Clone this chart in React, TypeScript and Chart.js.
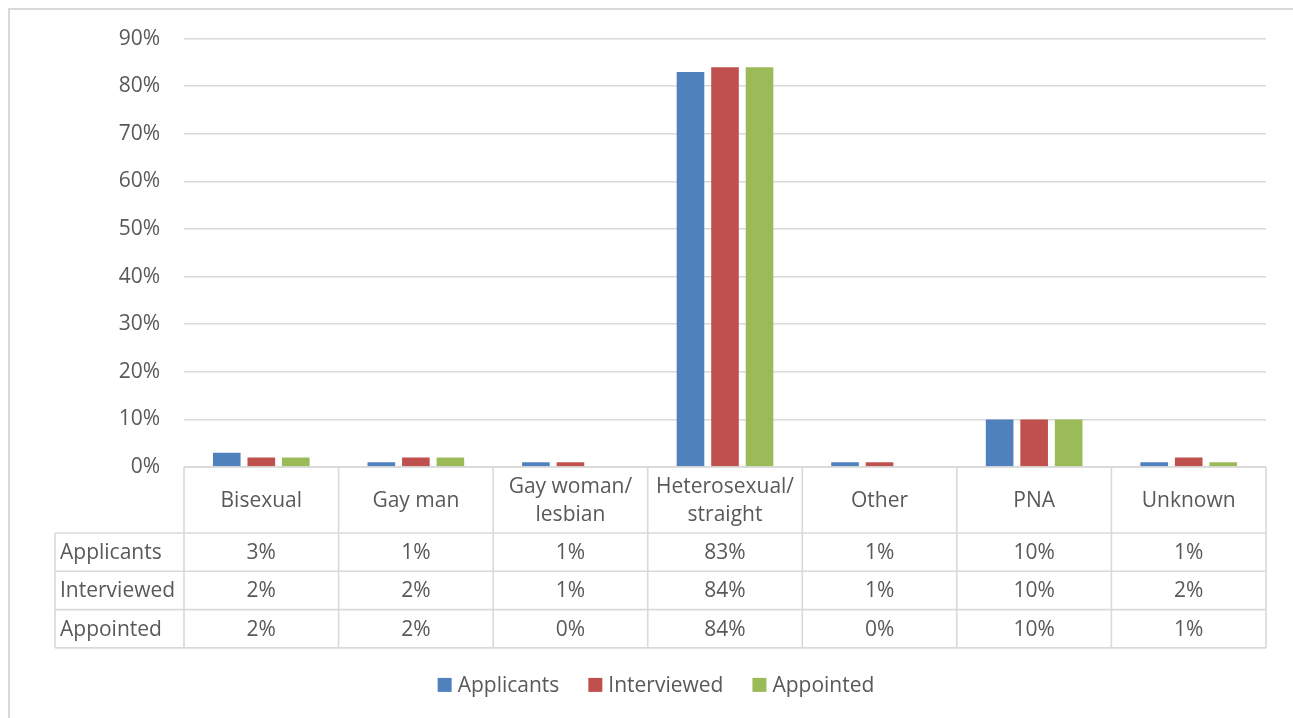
import React, { useEffect, useRef } from "react";
import { Chart, registerables } from "chart.js";

Chart.register(...registerables);

const categories: string[][] = [
  ["Bisexual"],
  ["Gay man"],
  ["Gay woman/", "lesbian"],
  ["Heterosexual/", "straight"],
  ["Other"],
  ["PNA"],
  ["Unknown"],
];
const seriesNames = ["Applicants", "Interviewed", "Appointed"];
const applicants = [3, 1, 1, 83, 1, 10, 1];
const interviewed = [2, 2, 1, 84, 1, 10, 2];
const appointed = [2, 2, 0, 84, 0, 10, 1];
const seriesColors = ["#4F81BD", "#C0504D", "#9BBB59"];
const yMax = 90;
const yStep = 10;

const FONT_FAMILY = "'Open Sans', 'DejaVu Sans', sans-serif";
const FONT_SIZE = 21;
const TEXT_COLOR = "#595959";
const LINE_COLOR = "#d9d9d9";

const tablePlugin = {
  id: "dataTable",
  afterDraw(chart: any) {
    const { ctx, chartArea } = chart;
    const xs = chart.scales.x;
    const seriesValues = [applicants, interviewed, appointed];
    const n = categories.length;
    const top = chartArea.bottom;
    const headerH = 66;
    const rowH = 38.3;
    const headerBottom = top + headerH;
    const tableBottom = headerBottom + rowH * 3;
    const labelLeft = 45;
    const colW = (chartArea.right - chartArea.left) / n;

    ctx.save();
    ctx.strokeStyle = LINE_COLOR;
    ctx.lineWidth = 1.6;
    const line = (x1: number, y1: number, x2: number, y2: number) => {
      ctx.beginPath();
      ctx.moveTo(x1, y1);
      ctx.lineTo(x2, y2);
      ctx.stroke();
    };
    line(chartArea.left, top, chartArea.right, top);
    for (let r = 0; r <= 3; r++) {
      const y = headerBottom + r * rowH;
      line(labelLeft, y, chartArea.right, y);
    }
    for (let i = 0; i <= n; i++) {
      const x = chartArea.left + i * colW;
      line(x, top, x, tableBottom);
    }
    line(labelLeft, headerBottom, labelLeft, tableBottom);

    ctx.fillStyle = TEXT_COLOR;
    ctx.font = `${FONT_SIZE}px ${FONT_FAMILY}`;
    ctx.textBaseline = "middle";
    ctx.textAlign = "center";
    const lh = 28;
    categories.forEach((lines, i) => {
      const cx = xs.getPixelForValue(i);
      const cy = (top + headerBottom) / 2;
      const startY = cy - ((lines.length - 1) * lh) / 2;
      lines.forEach((t, k) => ctx.fillText(t, cx, startY + k * lh + 1));
    });
    seriesValues.forEach((vals, r) => {
      const cy = headerBottom + r * rowH + rowH / 2 + 1;
      ctx.textAlign = "left";
      ctx.fillText(seriesNames[r], labelLeft + 5, cy);
      ctx.textAlign = "center";
      vals.forEach((v, i) => {
        ctx.fillText(`${v}%`, xs.getPixelForValue(i), cy);
      });
    });

    // legend
    const sq = 14;
    const gapText = 6;
    const gapItem = 29;
    const widths = seriesNames.map((s) => ctx.measureText(s).width);
    const total =
      widths.reduce((a, b) => a + b, 0) + seriesNames.length * (sq + gapText) + gapItem * (seriesNames.length - 1);
    let lx = 646 - total / 2;
    const ly = tableBottom + 37;
    ctx.textAlign = "left";
    seriesNames.forEach((s, i) => {
      ctx.fillStyle = seriesColors[i];
      ctx.fillRect(lx, ly - sq / 2, sq, sq);
      lx += sq + gapText;
      ctx.fillStyle = TEXT_COLOR;
      ctx.fillText(s, lx, ly + 1);
      lx += widths[i] + gapItem;
    });
    ctx.restore();
  },
};

export default function App() {
  const canvasRef = useRef<HTMLCanvasElement | null>(null);

  useEffect(() => {
    document.documentElement.style.overflow = "hidden";
    document.body.style.overflow = "hidden";
    const canvas = canvasRef.current;
    if (!canvas) return;
    const chart = new Chart(canvas, {
      type: "bar",
      data: {
        labels: categories.map((c) => c.join(" ")),
        datasets: [applicants, interviewed, appointed].map((vals, i) => ({
          label: seriesNames[i],
          data: vals,
          backgroundColor: seriesColors[i],
          borderWidth: 0,
          categoryPercentage: 0.67,
          barPercentage: 0.8,
        })),
      },
      options: {
        animation: false,
        responsive: false,
        devicePixelRatio: 1,
        events: [],
        layout: { padding: { top: 20, left: 0, right: 34, bottom: 247 } },
        plugins: {
          legend: { display: false },
          tooltip: { enabled: false },
          title: { display: false },
        },
        scales: {
          x: {
            display: false,
            grid: { display: false },
          },
          y: {
            min: 0,
            max: yMax,
            border: { display: false },
            grid: { color: LINE_COLOR, lineWidth: 1.6, drawTicks: false },
            ticks: {
              stepSize: yStep,
              padding: 24,
              color: TEXT_COLOR,
              font: { family: FONT_FAMILY, size: FONT_SIZE },
              callback: (v: any) => `${v}%`,
            },
            afterFit: (scale: any) => {
              scale.width = 174;
            },
          },
        },
      },
      plugins: [tablePlugin],
    });
    return () => chart.destroy();
  }, []);

  return (
    <div
      style={{
        position: "fixed",
        left: 8,
        top: 8,
        width: 1300,
        height: 720,
        border: "2px solid #d9d9d9",
        background: "#ffffff",
        overflow: "hidden",
      }}
    >
      <canvas
        ref={canvasRef}
        width={1290}
        height={712}
        style={{ display: "block", width: 1290, height: 712, marginTop: -8 }}
      />
    </div>
  );
}
